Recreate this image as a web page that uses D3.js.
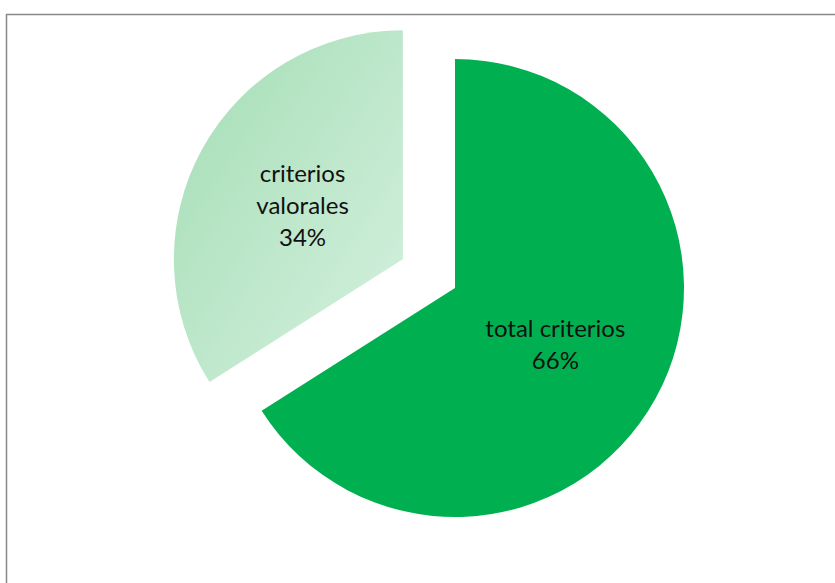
<!doctype html>
<html lang="es">
<head>
  <meta charset="utf-8">
  <title>Criterios</title>
  <script src="https://cdn.jsdelivr.net/npm/d3@7"></script>
  <style>
    body { margin: 0; background: #fff; }
    text { font-family: Lato, "Open Sans", sans-serif; font-size: 24px; fill: #111; }
  </style>
</head>
<body>
<svg id="chart"></svg>
<script>
  'use strict';

  // data
  var categories = ["total criterios", "criterios valorales"];
  var values = [66, 34];
  var labels = [["total criterios", "66%"], ["criterios", "valorales", "34%"]];

  var WIDTH = 835, HEIGHT = 583;
  var R = 229;
  var CX = 455, CY = 288;   // centre of the big slice
  var EXPLODE = [0, 59.5];

  var svg = d3.select("#chart").attr("width", WIDTH).attr("height", HEIGHT);

  var defs = svg.append("defs");
  var grad = defs.append("linearGradient")
    .attr("id", "lightGreen")
    .attr("x1", "0%").attr("y1", "0%")
    .attr("x2", "100%").attr("y2", "100%");
  grad.append("stop").attr("offset", "0%").attr("stop-color", "#a3ddb4");
  grad.append("stop").attr("offset", "100%").attr("stop-color", "#d6f1e0");

  // chart border (runs off the right and bottom like the original)
  svg.append("rect")
    .attr("x", 6.5).attr("y", 14.5)
    .attr("width", WIDTH).attr("height", HEIGHT)
    .attr("fill", "none")
    .attr("stroke", "#888")
    .attr("stroke-width", 1.5);

  var pie = d3.pie().sort(null).value(function(d){ return d; });
  var arcs = pie(values);

  var arc = d3.arc().innerRadius(0).outerRadius(R);
  var labelArc = d3.arc().innerRadius(0).outerRadius(R);

  var fills = ["#00b050", "url(#lightGreen)"];

  var g = svg.append("g").attr("transform", "translate(" + CX + "," + CY + ")");

  var slice = g.selectAll("g.slice")
    .data(arcs)
    .enter().append("g")
    .attr("class", "slice")
    .attr("transform", function(d, i){
      var mid = (d.startAngle + d.endAngle) / 2;
      return "translate(" + (Math.sin(mid) * EXPLODE[i]) + "," + (-Math.cos(mid) * EXPLODE[i]) + ")";
    });

  slice.append("path")
    .attr("d", arc)
    .attr("fill", function(d, i){ return fills[i]; });

  slice.each(function(d, i){
    var c = labelArc.centroid(d);
    var lines = labels[i];
    var lh = 32;
    var t = d3.select(this).append("text")
      .attr("text-anchor", "middle")
      .attr("x", c[0])
      .attr("y", c[1] - (lines.length - 1) * lh / 2 + 10);
    lines.forEach(function(l, j){
      t.append("tspan").attr("x", c[0]).attr("dy", j === 0 ? 0 : lh).text(l);
    });
  });
</script>
</body>
</html>
